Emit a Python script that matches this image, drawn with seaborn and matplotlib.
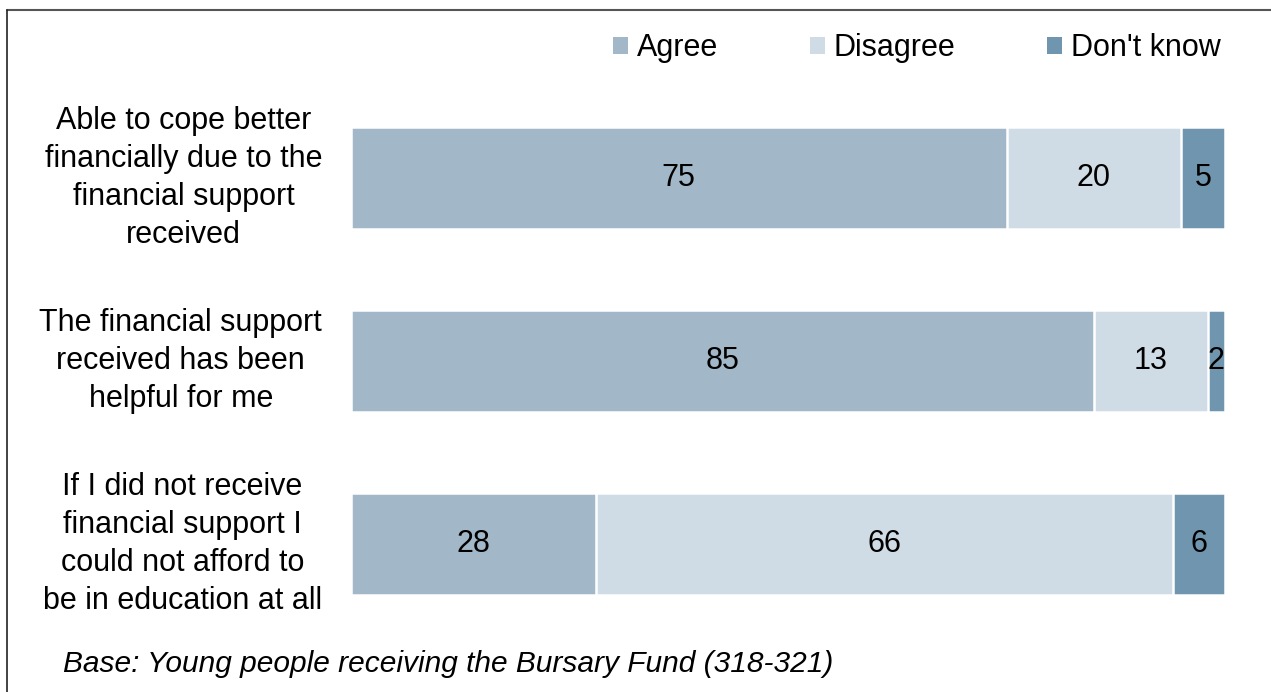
import matplotlib
matplotlib.use("Agg")
import matplotlib.pyplot as plt
from matplotlib.patches import Patch
from matplotlib.lines import Line2D
import seaborn as sns
import pandas as pd

# Survey statements and response shares (%)
statements = [
    "Able to cope better\nfinancially due to the\nfinancial support\nreceived",
    "The financial support\nreceived has been\nhelpful for me",
    "If I did not receive\nfinancial support I\ncould not afford to\nbe in education at all",
]
agree = [75, 85, 28]
disagree = [20, 13, 66]
dont_know = [5, 2, 6]

series_names = ["Agree", "Disagree", "Don't know"]
colors = ["#A2B8C8", "#CFDCE5", "#7096AF"]
footnote = "Base: Young people receiving the Bursary Fund (318-321)"

sns.set_theme(style="white")
plt.rcParams["font.family"] = ["Liberation Sans", "DejaVu Sans"]
plt.rcParams["text.color"] = "black"

FS = 22

df = pd.DataFrame({"statement": statements, "Agree": agree,
                   "Disagree": disagree, "Don't know": dont_know})
cum = df[series_names].cumsum(axis=1)

fig = plt.figure(figsize=(12.71, 6.92), dpi=100)
ax = fig.add_axes([351 / 1271, 1 - 635.5 / 692, (1225 - 351) / 1271, (635.5 - 86.5) / 692])

# stacked bars: draw cumulative totals from the outermost segment inwards
for name, col in reversed(list(zip(series_names, colors))):
    sns.barplot(x=cum[name], y=df["statement"], orient="h", color=col,
                width=0.56, edgecolor="white", linewidth=1.8, ax=ax,
                saturation=1)

# value labels centred in each segment
for i in range(len(df)):
    left = 0
    for name in series_names:
        v = df.loc[i, name]
        ax.text(left + v / 2, i, f"{v}", ha="center", va="center",
                fontsize=FS, color="black")
        left += v

ax.set_xlim(0, 100)
ax.set_ylim(2.5, -0.5)
ax.set_xlabel("")
ax.set_ylabel("")
ax.set_xticks([])
ax.set_yticks([])
for s in ax.spines.values():
    s.set_visible(False)

# category labels, right aligned with centred lines
for i, lab in enumerate(statements):
    ax.text(-0.033, 1 - (i + 0.5) / 3, lab, transform=ax.transAxes,
            ha="right", va="center", multialignment="center",
            fontsize=FS, linespacing=1.34, color="black")

handles = [Patch(facecolor=c, edgecolor="none") for c in colors]
fig.legend(handles, series_names, loc="center", bbox_to_anchor=(0.7215, 1 - 48 / 692),
           ncol=3, frameon=False, fontsize=FS, handlelength=0.48, handleheight=0.48,
           handletextpad=0.3, columnspacing=3.0, labelcolor="black")

fig.text(63 / 1271, 1 - 664 / 692, footnote, ha="left", va="center",
         fontsize=21.5, style="italic", color="black")

# outer frame (top and left edges)
fig.add_artist(Line2D([7 / 1271, 1], [1 - 10 / 692, 1 - 10 / 692],
                      transform=fig.transFigure, color="#555555", linewidth=1.5))
fig.add_artist(Line2D([7 / 1271, 7 / 1271], [0, 1 - 10 / 692],
                      transform=fig.transFigure, color="#222222", linewidth=1.2))

fig.savefig("out.png", dpi=100)
